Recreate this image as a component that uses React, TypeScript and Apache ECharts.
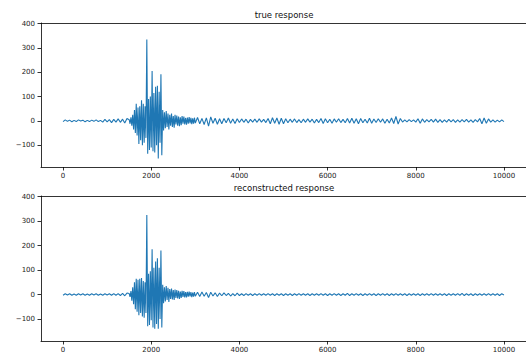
import React, { useEffect, useRef } from "react";
import * as echarts from "echarts";

const xTicks = [0, 2000, 4000, 6000, 8000, 10000];
const yTicks = [-100, 0, 100, 200, 300, 400];

// true response: 0..1450 step 50
const trueSeg1 = [-3, 4, -2, 3, -4, 2, -3, 4, -1, 3, -4, 2, -3, 3, -2, 4, -3, 2, -5, 6, -4, 5, -7, 6, -5, 8, -6, 7, -9, 10];
// true response: 1500..3000 step 20
const trueSeg2 = [
  5, -12, 15, -20, 25, -35, 45, -50, 70, -60,
  55, -95, 60, -80, 85, -100, 70, -90, 60, -70,
  335, -135, 90, -120, 100, -110, 205, -125, 115, -130,
  140, -100, 145, -155, 120, -90, 192, -142, 45, -40,
  35, -30, 40, -25, 30, -35, 25, -20, 30, -25,
  20, -28, 25, -15, 22, -20, 18, -22, 15, -18,
  20, -12, 18, -15, 12, -16, 14, -12, 16, -10,
  12, -14, 10, -12, 13, -9,
];
// true response: 3050..10000 step 50
const trueSeg3 = [
  14, -12, 10, -15, 12, -22, 16, -10, 11, -14,
  9, -12, 10, -8, 12, -10, 8, -11, 9, -7,
  8, -6, 7, -9, 6, -5, 7, -6, 8, -5,
  6, -7, 10, -12, 13, -10, 12, -14, 11, -12,
  9, -8, 7, -6, 8, -7, 5, -8, 7, -6,
  8, -5, 7, -9, 6, -7, 10, -11, 9, -8,
  7, -10, 8, -6, 9, -7, 6, -8, 10, -9,
  11, -10, 9, -12, 10, -8, 7, -9, 11, -10,
  8, -7, 9, -6, 8, -10, 7, -9, 12, -11,
  18, -13, 10, -5, 4, -4, 5, -3, 4, -5,
  9, -10, 8, -6, 5, -4, 6, -5, 7, -6,
  5, -6, 4, -5, 6, -4, 5, -6, 4, -5,
  5, -4, 6, -5, 4, -6, 5, -4, 10, -12,
  12, -10, 8, -5, 4, -5, 3, -4, 4, -3,
];

// reconstructed response
const recSeg1 = [-3, 3, -2, 3, -3, 2, -3, 3, -2, 3, -3, 2, -3, 3, -2, 3, -3, 2, -3, 3, -2, 3, -3, 4, -3, 4, -4, 5, -5, 6];
const recSeg2 = [
  4, -10, 14, -25, 30, -40, 50, -60, 65, -70,
  60, -85, 65, -75, 68, -90, 55, -95, 50, -75,
  325, -130, 85, -125, 95, -105, 185, -135, 110, -140,
  135, -120, 148, -140, 110, -100, 180, -135, 40, -35,
  30, -28, 35, -22, 28, -30, 22, -18, 25, -20,
  18, -22, 20, -14, 18, -16, 15, -18, 12, -14,
  15, -10, 14, -12, 10, -12, 11, -9, 12, -8,
  10, -11, 8, -9, 10, -7,
];
const recSeg3 = [
  9, -8, 10, -7, 8, -12, 9, -6, 7, -8,
  6, -5, 7, -4, 5, -6, 4, -5, 6, -4,
  3, -4, 4, -3, 3, -4, 3, -3, 4, -3,
  3, -3, 4, -3, 3, -4, 3, -3, 3, -4,
  3, -3, 3, -4, 3, -3, 4, -3, 3, -3,
  3, -4, 3, -3, 3, -3, 4, -3, 3, -4,
  3, -3, 4, -3, 3, -4, 3, -3, 5, -4,
  3, -3, 4, -3, 3, -4, 3, -3, 4, -3,
  3, -4, 3, -3, 4, -3, 3, -4, 3, -3,
  4, -3, 3, -3, 3, -4, 3, -3, 3, -3,
  3, -4, 3, -3, 3, -3, 4, -3, 3, -3,
  3, -3, 3, -4, 3, -3, 3, -3, 4, -3,
  5, -4, 3, -3, 3, -4, 3, -3, 3, -3,
  3, -3, 4, -3, 3, -3, 3, -4, 3, -2,
];

const seg = (start: number, step: number, ys: number[]) => ys.map((y, i) => [start + i * step, y]);
const build = (a: number[], b: number[], c: number[]) => [...seg(0, 50, a), ...seg(1500, 20, b), ...seg(3050, 50, c)];

const trueData = build(trueSeg1, trueSeg2, trueSeg3);
const recData = build(recSeg1, recSeg2, recSeg3);

const font = "DejaVu Sans";
const spine = { show: true, onZero: false, lineStyle: { color: "#000", width: 0.8 } };

export default function App() {
  const ref = useRef<HTMLDivElement>(null);
  useEffect(() => {
    const chart = echarts.init(ref.current!, null, { renderer: "svg" });
    const mkX = (gi: number) => ({
      type: "value",
      gridIndex: gi,
      position: "bottom",
      min: -500,
      max: 10500,
      axisLine: spine,
      splitLine: { show: false },
      axisTick: { show: true, length: 3.5, lineStyle: { color: "#000", width: 0.8 }, customValues: xTicks },
      axisLabel: { customValues: xTicks, fontSize: 7, fontFamily: font, color: "#222", margin: 5, formatter: (v: number) => String(v) },
    });
    const mkTop = (gi: number) => ({
      type: "value",
      gridIndex: gi,
      position: "top",
      min: -500,
      max: 10500,
      axisLine: spine,
      splitLine: { show: false },
      axisTick: { show: false },
      axisLabel: { show: false },
    });
    const mkY = (gi: number) => ({
      type: "value",
      gridIndex: gi,
      position: "left",
      min: -190,
      max: 403,
      axisLine: spine,
      splitLine: { show: false },
      axisTick: { show: true, length: 3.5, lineStyle: { color: "#000", width: 0.8 }, customValues: yTicks },
      axisLabel: { customValues: yTicks, fontSize: 7, fontFamily: font, color: "#222", margin: 6, formatter: (v: number) => (v < 0 ? "\u2212" + Math.abs(v) : String(v)) },
    });
    chart.setOption({
      animation: false,
      backgroundColor: "#fff",
      title: [
        { text: "true response", left: 284, top: 10, textAlign: "center", padding: 0, textStyle: { fontSize: 8.5, fontWeight: "normal", fontFamily: font, color: "#111" } },
        { text: "reconstructed response", left: 284, top: 183, textAlign: "center", padding: 0, textStyle: { fontSize: 8.5, fontWeight: "normal", fontFamily: font, color: "#111" } },
      ],
      grid: [
        { left: 41, right: -2, top: 23, height: 144 },
        { left: 41, right: -2, top: 196, height: 145 },
      ],
      xAxis: [mkX(0), mkX(1), mkTop(0), mkTop(1)],
      yAxis: [mkY(0), mkY(1)],
      series: [
        { type: "line", xAxisIndex: 0, yAxisIndex: 0, data: trueData, showSymbol: false, symbol: "none", lineStyle: { color: "#1f77b4", width: 1.1 } },
        { type: "line", xAxisIndex: 1, yAxisIndex: 1, data: recData, showSymbol: false, symbol: "none", lineStyle: { color: "#1f77b4", width: 1.1 } },
      ],
    });
    return () => chart.dispose();
  }, []);
  return <div ref={ref} style={{ position: "fixed", left: 0, top: 0, width: 526, height: 353 }} />;
}
